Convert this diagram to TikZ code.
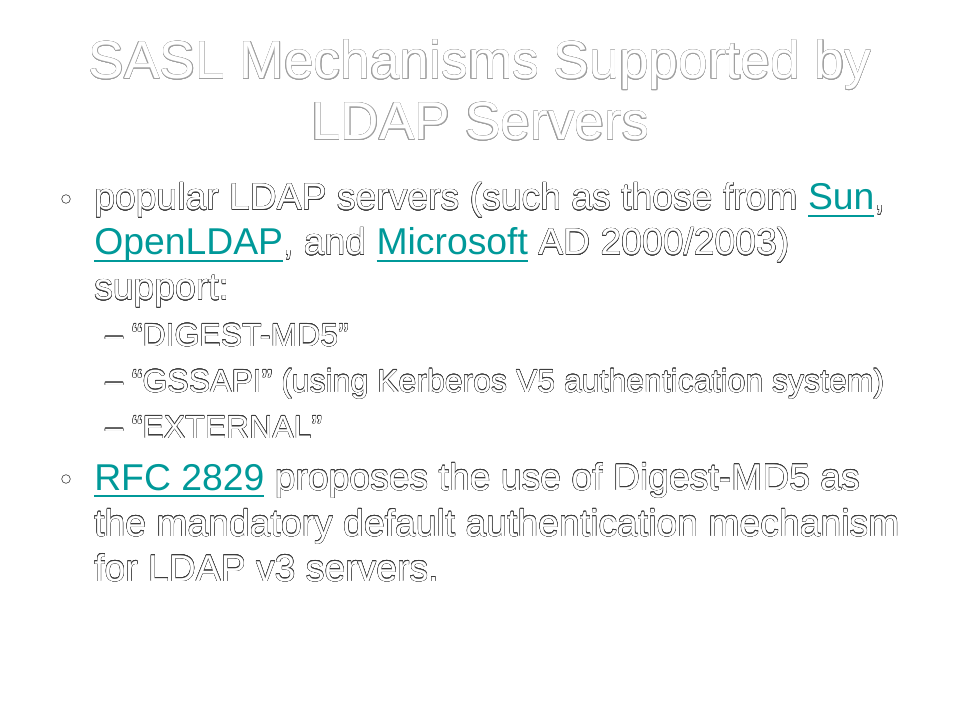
\documentclass[tikz,border=0pt]{standalone}
\usepackage{fontspec}
\setmainfont{Liberation Sans}
\usepackage[copies]{contour}
\contournumber{16}
\definecolor{linkc}{RGB}{0,153,153}
\definecolor{outl}{RGB}{60,60,60}
\definecolor{toutl}{RGB}{160,160,160}
\newcommand\ot[1]{\contour{outl}{#1}}
\newcommand\tot[1]{\contour{toutl}{#1}}
\newcommand\lnk[1]{{\color{linkc}\setbox0\hbox{#1}\rlap{\rule[-5.4pt]{\wd0}{1.4pt}}\box0}}
\tikzset{
  bodyline/.style={anchor=base west, inner sep=0pt, text=white, font=\fontsize{28}{33}\selectfont},
  subline/.style={anchor=base west, inner sep=0pt, text=white, font=\fontsize{24}{29}\selectfont},
  titleline/.style={anchor=base, inner sep=0pt, text=white, font=\fontsize{40}{48}\selectfont},
  bul/.style={circle, draw=outl, line width=0.45pt, fill=white, minimum size=6.5pt, inner sep=0pt}
}
\begin{document}
\begin{tikzpicture}[x=0.75pt,y=-0.75pt]
\useasboundingbox[fill=white] (0,0) rectangle (960,720);
\contourlength{0.25pt}
\node[titleline] (t1) at (480,79) {\tot{SASL Mechanisms Supported by}};
\node[titleline] (t2) at (480,140) {\tot{LDAP Servers}};
\contourlength{0.22pt}
\node[bul] (b1) at (66,199) {};
\node[bodyline] (l1) at (94,210) {\ot{popular LDAP servers (such as those from} \lnk{Sun}\ot{,}};
\node[bodyline] (l2) at (94,255) {\lnk{OpenLDAP}\ot{, and} \lnk{Microsoft} \ot{AD 2000/2003)}};
\node[bodyline] (l3) at (94,300) {\ot{support:}};
\node[subline] (s1) at (105,346) {\ot{– “DIGEST-MD5”}};
\node[subline] (s2) at (105,392) {\ot{– “GSSAPI” (using Kerberos V5 authentication system)}};
\node[subline] (s3) at (105,438) {\ot{– “EXTERNAL”}};
\node[bul] (b2) at (66,479) {};
\node[bodyline] (p1) at (94,490) {\lnk{RFC 2829} \ot{proposes the use of Digest-MD5 as}};
\node[bodyline] (p2) at (94,536) {\ot{the mandatory default authentication mechanism}};
\node[bodyline] (p3) at (94,581) {\ot{for LDAP v3 servers.}};
\end{tikzpicture}
\end{document}
